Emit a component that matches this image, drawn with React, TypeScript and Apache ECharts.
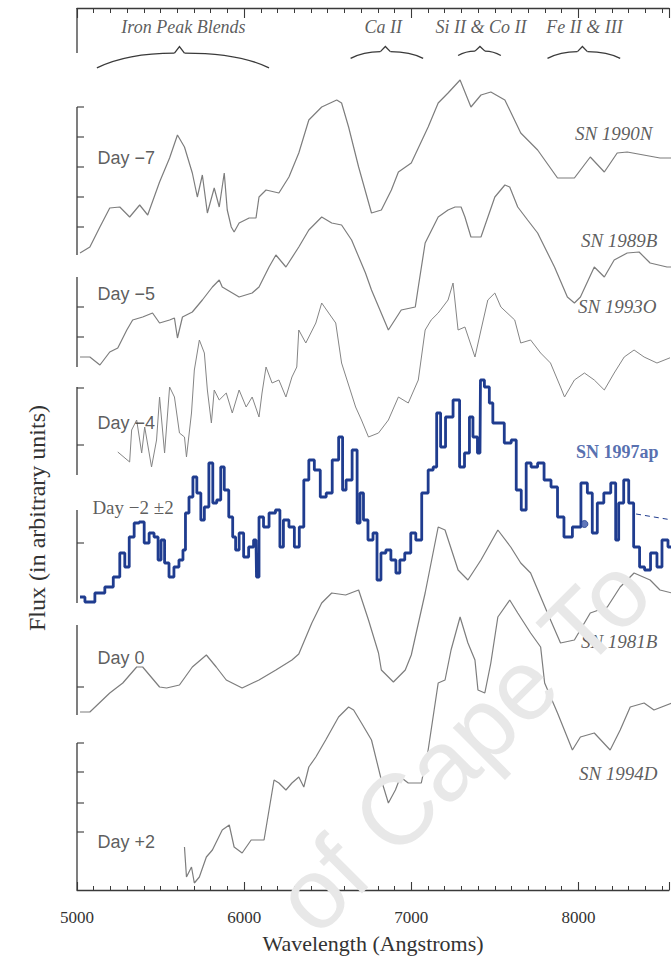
import React, { useEffect, useRef } from 'react';
import * as echarts from 'echarts';

// Wavelength (Angstrom) vs flux (arbitrary units, spectra offset vertically)
const sn1990N: [number, number][] = [
  [5018, 63.7], [5077, 64.3], [5137, 66.3], [5196, 68.2], [5256, 68.3], [5315, 67.3], [5375, 68.5],
  [5423, 67.5], [5494, 70.8], [5554, 73.2], [5601, 75.5], [5643, 74.3], [5690, 71.7], [5720, 69.3],
  [5750, 71.5], [5780, 67.7], [5821, 70.2], [5851, 68.3], [5881, 71.7], [5899, 68.0], [5923, 66.3],
  [5940, 65.8], [5970, 66.7], [6030, 67.2], [6071, 67.2], [6089, 69.3], [6131, 70.0], [6208, 69.7],
  [6268, 71.3], [6327, 73.7], [6387, 77.0], [6464, 78.3], [6554, 79.0], [6583, 78.7], [6625, 76.3],
  [6685, 72.3], [6762, 67.7], [6821, 68.0], [6881, 70.0], [6923, 71.8], [7000, 72.7], [7101, 76.3],
  [7161, 78.7], [7220, 79.7], [7292, 81.0], [7357, 78.3], [7417, 79.5], [7476, 79.8], [7560, 79.0],
  [7589, 78.0], [7655, 75.7], [7756, 74.0], [7875, 71.2], [7976, 71.2], [8071, 73.3], [8155, 71.8],
  [8232, 73.7], [8292, 73.8], [8488, 73.2], [8560, 73.2],
];

const sn1989B: [number, number][] = [
  [5018, 53.3], [5077, 53.3], [5137, 52.5], [5196, 53.8], [5244, 54.2], [5298, 56.0], [5333, 57.0],
  [5393, 57.3], [5452, 57.7], [5494, 56.7], [5554, 57.0], [5583, 57.2], [5601, 55.2], [5631, 57.3],
  [5690, 57.8], [5750, 59.0], [5810, 60.3], [5851, 61.0], [5869, 60.3], [5970, 59.3], [6048, 59.7],
  [6089, 60.3], [6149, 62.3], [6190, 63.5], [6250, 62.3], [6327, 64.3], [6387, 66.0], [6464, 67.3],
  [6524, 66.7], [6583, 66.5], [6643, 65.0], [6726, 61.7], [6762, 60.0], [6863, 56.0], [6940, 58.0],
  [7024, 58.3], [7042, 60.3], [7083, 64.7], [7161, 67.3], [7220, 68.0], [7262, 68.3], [7298, 68.3],
  [7321, 67.3], [7357, 65.3], [7417, 65.3], [7500, 69.3], [7560, 70.5], [7589, 70.3], [7637, 68.3],
  [7696, 67.0], [7756, 65.7], [7857, 62.3], [7934, 59.3], [7976, 58.7], [8012, 59.3], [8095, 62.3],
  [8155, 61.3], [8214, 63.0], [8292, 63.7], [8363, 63.8], [8429, 62.7], [8530, 62.3], [8560, 62.3],
];

const sn1993O: [number, number][] = [
  [5244, 43.8], [5315, 42.8], [5327, 46.0], [5357, 47.0], [5387, 43.7], [5405, 46.3], [5446, 42.3],
  [5476, 45.0], [5494, 49.3], [5524, 43.7], [5554, 50.3], [5583, 49.3], [5613, 45.7], [5643, 45.3],
  [5655, 43.3], [5685, 47.7], [5702, 52.0], [5732, 55.0], [5762, 53.7], [5780, 50.0], [5804, 46.7],
  [5821, 50.0], [5851, 49.0], [5893, 49.7], [5929, 47.7], [5970, 50.0], [6012, 48.3], [6048, 49.3],
  [6089, 47.3], [6107, 49.7], [6131, 52.3], [6167, 50.7], [6208, 51.0], [6250, 49.3], [6286, 51.3],
  [6315, 52.3], [6327, 56.0], [6369, 54.7], [6429, 56.7], [6464, 58.7], [6506, 57.7], [6548, 56.7],
  [6583, 52.7], [6625, 50.5], [6667, 48.3], [6702, 47.0], [6744, 45.3], [6804, 45.7], [6863, 47.0],
  [6923, 49.3], [6982, 48.7], [7042, 51.0], [7083, 56.0], [7119, 57.0], [7161, 57.7], [7220, 59.0],
  [7250, 60.7], [7280, 56.0], [7321, 56.3], [7381, 53.3], [7417, 56.0], [7458, 59.0], [7500, 59.7],
  [7536, 58.3], [7619, 57.0], [7655, 54.7], [7714, 55.0], [7774, 53.7], [7833, 52.7], [7893, 50.3],
  [7917, 49.3], [7976, 51.0], [8036, 51.7], [8095, 51.0], [8155, 50.0], [8214, 51.7], [8274, 53.3],
  [8333, 54.0], [8393, 53.3], [8470, 52.7], [8560, 53.3],
];

const sn1997ap: [number, number][] = [
  [5018, 29.3], [5077, 28.8], [5137, 29.7], [5196, 30.3], [5238, 31.3], [5274, 33.7], [5298, 32.3],
  [5327, 35.3], [5357, 36.7], [5387, 36.8], [5417, 34.7], [5446, 35.7], [5476, 35.3], [5494, 33.0],
  [5512, 35.0], [5536, 32.7], [5565, 31.3], [5595, 32.3], [5625, 33.0], [5643, 34.0], [5655, 37.7],
  [5685, 39.3], [5702, 41.3], [5732, 39.7], [5750, 37.0], [5774, 38.3], [5804, 42.7], [5821, 38.7],
  [5851, 39.0], [5869, 42.3], [5893, 40.0], [5923, 37.3], [5940, 35.3], [5958, 34.0], [5982, 35.7],
  [6012, 33.3], [6042, 34.3], [6071, 35.0], [6077, 31.3], [6101, 37.3], [6131, 36.3], [6167, 37.7],
  [6208, 38.0], [6220, 34.3], [6250, 37.0], [6286, 36.3], [6315, 34.3], [6345, 36.3], [6369, 41.0],
  [6405, 43.0], [6435, 42.0], [6476, 39.3], [6506, 39.7], [6548, 43.0], [6583, 45.3], [6595, 40.0],
  [6625, 41.0], [6667, 44.0], [6685, 36.7], [6702, 39.7], [6726, 37.0], [6756, 35.0], [6786, 35.7],
  [6804, 31.0], [6833, 33.7], [6863, 34.0], [6893, 33.0], [6923, 31.7], [6940, 33.0], [6982, 33.7],
  [7012, 35.7], [7042, 35.0], [7083, 39.7], [7119, 42.0], [7143, 42.3], [7161, 47.7], [7190, 44.3],
  [7220, 47.3], [7280, 49.0], [7298, 42.3], [7339, 43.7], [7357, 47.3], [7381, 45.3], [7411, 43.7],
  [7417, 51.0], [7458, 50.3], [7476, 48.7], [7500, 46.7], [7536, 46.7], [7577, 44.7], [7619, 45.0],
  [7637, 40.0], [7679, 38.0], [7696, 42.7], [7738, 42.3], [7774, 42.7], [7815, 41.0], [7857, 40.3],
  [7893, 37.3], [7934, 35.3], [7994, 36.3], [8036, 40.7], [8071, 39.7], [8095, 35.7], [8131, 38.7],
  [8173, 39.7], [8214, 40.7], [8232, 35.0], [8250, 38.7], [8292, 41.0], [8310, 38.7], [8351, 34.3],
  [8381, 32.3], [8411, 32.0], [8452, 33.7], [8488, 32.3], [8512, 35.0], [8560, 34.3],
];

const sn1981B: [number, number][] = [
  [5018, 17.8], [5077, 17.8], [5196, 19.7], [5274, 20.7], [5357, 22.3], [5393, 22.3], [5494, 20.3],
  [5536, 20.2], [5613, 20.5], [5690, 22.3], [5774, 23.5], [5833, 22.3], [5893, 21.0], [5988, 20.2],
  [6089, 21.0], [6190, 22.0], [6286, 23.0], [6327, 23.6], [6405, 26.7], [6464, 28.7], [6524, 29.7],
  [6607, 29.5], [6685, 30.0], [6744, 27.0], [6804, 23.7], [6821, 22.0], [6893, 20.8], [6964, 22.0],
  [7000, 23.5], [7083, 29.7], [7161, 36.3], [7202, 36.0], [7280, 32.0], [7339, 31.0], [7417, 33.0],
  [7518, 36.0], [7595, 34.3], [7655, 32.7], [7714, 31.7], [7815, 27.7], [7893, 24.7], [7976, 25.0],
  [8071, 27.7], [8173, 28.3], [8250, 30.3], [8333, 31.7], [8429, 31.0], [8488, 30.0], [8560, 29.7],
];

const sn1994D: [number, number][] = [
  [5643, 4.3], [5655, 1.3], [5685, 2.3], [5702, 0.7], [5732, 1.3], [5774, 3.3], [5810, 4.0],
  [5869, 6.0], [5911, 6.5], [5940, 4.3], [5988, 3.7], [6042, 5.0], [6119, 5.0], [6149, 8.0],
  [6179, 11.0], [6208, 10.7], [6250, 10.0], [6286, 10.7], [6327, 11.3], [6357, 10.3], [6387, 12.3],
  [6429, 13.3], [6488, 15.0], [6565, 17.3], [6625, 18.3], [6655, 18.0], [6702, 16.7], [6762, 15.0],
  [6821, 11.0], [6863, 8.7], [6905, 10.0], [6935, 11.3], [6982, 10.7], [7060, 10.7], [7101, 14.0],
  [7161, 20.7], [7202, 21.0], [7238, 24.0], [7292, 27.3], [7339, 24.7], [7381, 23.0], [7399, 20.0],
  [7440, 19.7], [7476, 22.7], [7518, 27.3], [7589, 29.0], [7637, 27.7], [7714, 25.7], [7774, 24.3],
  [7798, 20.7], [7875, 17.7], [7964, 14.0], [8012, 15.3], [8095, 15.7], [8190, 14.0], [8250, 16.0],
  [8310, 18.3], [8393, 18.7], [8452, 18.0], [8560, 18.7],
];

const sn1997apDot: [number, number][] = [[8036, 36.6]];
const sn1997apDashed: [number, number][] = [[8345, 37.6], [8560, 37.0]];

// Line identifications: [start, centre, end] wavelength
const featureNames = ['Iron Peak Blends', 'Ca II', 'Si II & Co II', 'Fe II & III'];
const featureSpans: [number, number, number][] = [
  [5119, 5613, 6149], [6637, 6845, 7071], [7280, 7411, 7536], [7815, 8024, 8250],
];
const featureLabelCentres = [5637, 6833, 7417, 8036];

const dayLabels = ['Day −7', 'Day −5', 'Day −4', 'Day 0', 'Day +2'];
const dayLabelAt: [number, number][] = [[5119, 73.2], [5119, 59.6], [5119, 46.7], [5119, 23.2], [5119, 4.8]];
const dayLabel97ap = 'Day −2 ±2';
const dayLabel97apAt: [number, number] = [5089, 38.3];

const snNames = ['SN 1990N', 'SN 1989B', 'SN 1993O', 'SN 1981B', 'SN 1994D'];
const snNameAt: [number, number][] = [[7976, 75.7], [8012, 65.0], [7994, 58.4], [8012, 24.9], [8000, 11.7]];
const sn97apName = 'SN 1997ap';
const sn97apNameAt: [number, number] = [7982, 43.8];

// Broken flux axis: segments [top, bottom] and tick values
const leftAxisSegments: [number, number][] = [
  [88.2, 83.7], [78.3, 63.5], [61.3, 52.3], [50.3, 41.5], [38.0, 28.7], [26.5, 17.5], [14.7, 0],
];
const leftAxisTicks = [78.3, 75.3, 72.3, 69.3, 66.3, 58.3, 55.3, 50.2, 44.5, 34.7, 20.3, 14.7, 11.8, 8.7, 5.8];

const X_MIN = 5000;
const X_MAX = 8542;
const Y_MIN = 0;
const Y_MAX = 88.2;
const BRACE_TIP = 84.35;
const FEATURE_LABEL_Y = 86.3;

const SERIF = '"Liberation Serif", "Times New Roman", serif';
const SANS = '"Liberation Sans", Arial, sans-serif';
const AX = '#3a3a3a';
const TXT = '#333333';
const GREY = '#7d7d7d';
const BLUE = '#1f3c8f';

function buildOption(): any {
  const greyLine = (name: string, data: [number, number][], width = 1.1, color = GREY) => ({
    type: 'line', name, data, showSymbol: false, symbol: 'none', smooth: false,
    lineStyle: { color, width }, z: 3, silent: true,
  });
  const textSeries = (items: { value: [number, number]; name: string }[], label: any) => ({
    type: 'scatter', data: items, symbolSize: 1, itemStyle: { color: 'rgba(0,0,0,0)' }, silent: true, z: 6,
    label: { show: true, formatter: '{b}', ...label },
  });
  const xBase = { type: 'value', min: X_MIN, max: X_MAX, splitLine: { show: false } };

  return {
    animation: false,
    backgroundColor: '#ffffff',
    grid: { left: 77, right: 0, top: 8, bottom: 69, containLabel: false },
    xAxis: [
      {
        ...xBase, position: 'bottom', interval: 1000,
        axisLine: { show: true, onZero: false, lineStyle: { color: AX, width: 1.3 } },
        axisTick: { show: true, inside: true, length: 8, lineStyle: { color: AX, width: 1.1 } },
        axisLabel: {
          formatter: (v: number) => (Math.abs(v % 1000) < 1e-6 ? String(v) : ''),
          margin: 19, color: TXT, fontFamily: SERIF, fontSize: 17,
        },
        name: 'Wavelength (Angstroms)', nameLocation: 'middle', nameGap: 42,
        nameTextStyle: { color: TXT, fontFamily: SERIF, fontSize: 22 },
      },
      {
        ...xBase, position: 'bottom', interval: 100,
        axisLine: { show: false, onZero: false },
        axisTick: { show: true, inside: true, length: 4, lineStyle: { color: AX, width: 1 } },
        axisLabel: { show: false },
      },
      {
        ...xBase, position: 'top', interval: 1000,
        axisLine: { show: true, onZero: false, lineStyle: { color: AX, width: 1.3 } },
        axisTick: { show: true, inside: true, length: 10, lineStyle: { color: AX, width: 1.1 } },
        axisLabel: { show: false },
      },
      {
        ...xBase, position: 'top', interval: 100,
        axisLine: { show: false, onZero: false },
        axisTick: { show: true, inside: true, length: 5, lineStyle: { color: AX, width: 1 } },
        axisLabel: { show: false },
      },
    ],
    yAxis: { type: 'value', min: Y_MIN, max: Y_MAX, show: false },
    graphic: [
      {
        type: 'text', x: 37, y: 518, rotation: Math.PI / 2, z: 10,
        style: {
          text: 'Flux (in arbitrary units)', fontSize: 24, fontFamily: SERIF, fill: TXT,
          align: 'center', verticalAlign: 'middle', textAlign: 'center', textVerticalAlign: 'middle',
        },
      },
      {
        type: 'text', x: 462, y: 744, rotation: Math.PI / 4, z: 100, silent: true,
        style: {
          text: 'of Cape To', fontSize: 100, fontFamily: SANS, fill: '#e8e8e8',
          align: 'center', verticalAlign: 'middle', textAlign: 'center', textVerticalAlign: 'middle',
        },
      },
    ],
    series: [
      greyLine('SN 1990N', sn1990N, 1.2),
      greyLine('SN 1989B', sn1989B, 1.2),
      greyLine('SN 1993O', sn1993O, 1.0, '#858585'),
      greyLine('SN 1981B', sn1981B, 1.2),
      greyLine('SN 1994D', sn1994D, 1.2),
      {
        type: 'line', name: 'SN 1997ap', data: sn1997ap, step: 'middle', showSymbol: false, symbol: 'none',
        lineStyle: { color: BLUE, width: 2.8 }, z: 4, silent: true,
      },
      {
        type: 'line', name: 'SN 1997ap dashed', data: sn1997apDashed, showSymbol: false, symbol: 'none',
        lineStyle: { color: BLUE, width: 1, type: [5, 4] }, z: 4, silent: true,
      },
      {
        type: 'scatter', name: 'SN 1997ap point', data: sn1997apDot, symbol: 'circle', symbolSize: 7,
        itemStyle: { color: '#3a55a8', borderColor: BLUE, borderWidth: 1 }, z: 4, silent: true,
      },
      // broken left axis
      {
        type: 'custom', name: 'axis segments', silent: true, z: 5, clip: false,
        data: leftAxisSegments.map(([a, b]) => [X_MIN, a, b]),
        encode: { x: 0, y: [1, 2] },
        renderItem: (_p: any, api: any) => {
          const p1 = api.coord([api.value(0), api.value(1)]);
          const p2 = api.coord([api.value(0), api.value(2)]);
          return { type: 'line', shape: { x1: p1[0], y1: p1[1], x2: p2[0], y2: p2[1] }, style: { stroke: AX, lineWidth: 1.3 } };
        },
      },
      {
        type: 'custom', name: 'axis ticks', silent: true, z: 5, clip: false,
        data: leftAxisTicks.map((v) => [X_MIN, v]),
        encode: { x: 0, y: 1 },
        renderItem: (_p: any, api: any) => {
          const p = api.coord([api.value(0), api.value(1)]);
          return { type: 'line', shape: { x1: p[0], y1: p[1], x2: p[0] + 7, y2: p[1] }, style: { stroke: AX, lineWidth: 1.1 } };
        },
      },
      // braces
      {
        type: 'custom', name: 'braces', silent: true, z: 5, clip: false,
        data: featureSpans,
        encode: { x: [0, 1, 2] },
        renderItem: (_p: any, api: any) => {
          const s = api.coord([api.value(0), BRACE_TIP]);
          const m = api.coord([api.value(1), BRACE_TIP]);
          const e = api.coord([api.value(2), BRACE_TIP]);
          const tipY = m[1];
          const hw = (e[0] - s[0]) / 2;
          const shY = tipY + 4 + hw * 0.03;
          const endY = shY + hw * 0.16 + 1;
          const k = 5;
          const style = { stroke: '#3a3a3a', lineWidth: 1.3, fill: 'none' };
          return {
            type: 'group',
            children: [
              { type: 'bezierCurve', shape: { x1: s[0], y1: endY, cpx1: s[0] + hw * 0.35, cpy1: shY, x2: m[0] - k, y2: shY }, style },
              { type: 'polyline', shape: { points: [[m[0] - k, shY], [m[0], tipY], [m[0] + k, shY]] }, style },
              { type: 'bezierCurve', shape: { x1: e[0], y1: endY, cpx1: e[0] - hw * 0.35, cpy1: shY, x2: m[0] + k, y2: shY }, style },
            ],
          };
        },
      },
      textSeries(
        featureNames.map((n, i) => ({ name: n, value: [featureLabelCentres[i], FEATURE_LABEL_Y] as [number, number] })),
        { position: 'inside', align: 'center', verticalAlign: 'middle', fontFamily: SERIF, fontStyle: 'italic', fontSize: 18, color: TXT },
      ),
      textSeries(
        dayLabels.map((n, i) => ({ name: n, value: dayLabelAt[i] })),
        { position: 'right', distance: 0, align: 'left', verticalAlign: 'middle', fontFamily: SANS, fontSize: 18, color: TXT },
      ),
      textSeries(
        [{ name: dayLabel97ap, value: dayLabel97apAt }],
        { position: 'right', distance: 0, align: 'left', verticalAlign: 'middle', fontFamily: SERIF, fontSize: 19, color: TXT },
      ),
      textSeries(
        snNames.map((n, i) => ({ name: n, value: snNameAt[i] })),
        { position: 'right', distance: 0, align: 'left', verticalAlign: 'middle', fontFamily: SERIF, fontStyle: 'italic', fontSize: 19, color: TXT },
      ),
      textSeries(
        [{ name: sn97apName, value: sn97apNameAt }],
        { position: 'right', distance: 0, align: 'left', verticalAlign: 'middle', fontFamily: SERIF, fontWeight: 'bold', fontSize: 18, color: '#2b4a9b' },
      ),
    ],
  };
}

export default function App() {
  const ref = useRef<HTMLDivElement>(null);
  useEffect(() => {
    document.body.style.margin = '0';
    const chart = echarts.init(ref.current as HTMLDivElement, undefined, { renderer: 'svg' });
    chart.setOption(buildOption());
    return () => chart.dispose();
  }, []);
  return <div ref={ref} style={{ width: 672, height: 959, overflow: 'hidden', background: '#ffffff' }} />;
}
